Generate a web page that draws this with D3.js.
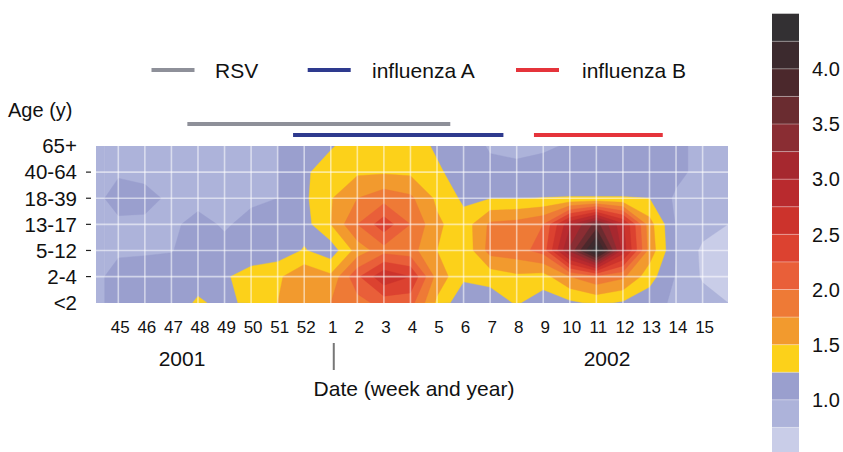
<!DOCTYPE html>
<html>
<head>
<meta charset="utf-8">
<script src="https://cdn.jsdelivr.net/npm/d3@7"></script>
<style>
  body { margin: 0; background: #fff; }
  text { font-family: "Liberation Sans", Arial, Helvetica, sans-serif; fill: #111; }
</style>
</head>
<body>
<svg></svg>
<script>
const width = 843, height = 452;

// categories
const ages = ["<2", "2-4", "5-12", "13-17", "18-39", "40-64", "65+"];
const weeks = ["45", "46", "47", "48", "49", "50", "51", "52", "1", "2", "3", "4",
               "5", "6", "7", "8", "9", "10", "11", "12", "13", "14", "15"];
const years = ["2001", "2002"];

// ratio values per age group, one value per week (45 .. 15)
const age65plus = [0.90, 0.90, 0.90, 0.90, 0.90, 0.90, 1.00, 1.10, 1.22, 1.40, 1.45, 1.40, 1.20, 1.10, 0.98, 0.95, 0.97, 1.02, 1.05, 1.05, 1.05, 1.08, 0.90];
const age40to64 = [0.97, 0.93, 0.92, 0.92, 0.92, 0.93, 1.00, 1.20, 1.40, 1.46, 1.47, 1.45, 1.30, 1.10, 1.05, 1.05, 1.08, 1.10, 1.10, 1.10, 1.08, 1.08, 0.90];
const age18to39 = [1.10, 1.08, 0.95, 0.95, 0.95, 0.97, 1.00, 1.20, 1.48, 1.75, 1.90, 1.80, 1.45, 1.20, 1.24, 1.24, 1.255, 1.26, 1.26, 1.26, 1.25, 0.95, 0.92];
const age13to17 = [0.95, 0.95, 0.97, 1.05, 0.98, 1.05, 1.05, 1.15, 1.50, 2.00, 2.40, 2.00, 1.55, 1.35, 1.80, 1.85, 2.00, 2.95, 3.60, 2.80, 1.60, 0.98, 0.85];
const age5to12  = [0.98, 0.98, 0.99, 1.10, 1.05, 1.10, 1.10, 1.27, 1.10, 1.60, 1.90, 1.85, 1.50, 1.30, 1.85, 1.90, 2.10, 3.30, 4.45, 2.90, 1.65, 1.00, 0.70];
const age2to4   = [1.05, 1.08, 1.10, 1.10, 1.22, 1.35, 1.45, 1.70, 1.55, 2.20, 2.70, 2.50, 1.65, 1.30, 1.35, 1.45, 1.40, 1.75, 1.95, 1.80, 1.35, 0.98, 0.72];
const ageUnder2 = [1.05, 1.05, 1.05, 1.30, 1.15, 1.35, 1.50, 1.65, 1.75, 1.90, 2.10, 2.10, 1.45, 1.05, 1.10, 1.28, 1.10, 1.20, 1.30, 1.22, 1.10, 0.95, 0.85];

// circulation periods, in week positions
const viruses = ["RSV", "influenza A", "influenza B"];
const virusStart = [2.6, 6.58, 15.65];
const virusEnd = [12.5, 14.5, 20.5];
const virusColors = ["#8e9099", "#2e3a8e", "#e5343b"];

// colour bands, 0.25 wide from 0.5 to 4.5
const thresholds = d3.range(0.5, 4.5, 0.25);
const bandColors = ["#c9cde8", "#adb3da", "#9a9fce", "#fcd11a", "#f29a2e", "#ee7a36",
                    "#e95f39", "#dc4230", "#cc332c", "#b92a2e", "#a6282f", "#8a2d33",
                    "#6a2c30", "#4b282c", "#3c2a2e", "#333033"];
const legendTicks = [1.0, 1.5, 2.0, 2.5, 3.0, 3.5, 4.0];

const svg = d3.select("svg").attr("width", width).attr("height", height);

const plot = {left: 96, right: 728, top: 146, bottom: 303};

const x = d3.scaleLinear().domain([0, weeks.length - 1]).range([118.3, 702.6]);
const y = d3.scaleLinear().domain([0, ages.length - 1]).range([302.7, 146]);

// contour grid coordinates (sample k sits at k + 0.5) to pixels
const gx = d3.scaleLinear()
  .domain([0, 0.5, weeks.length - 0.5, weeks.length])
  .range([104.6, x(0), x(weeks.length - 1), plot.right]);
const gy = d3.scaleLinear()
  .domain([0, 0.5, ages.length - 0.5, ages.length])
  .range([plot.bottom, y(0), y(ages.length - 1), plot.top]);

// grid for d3.contours, row 0 = <2
const rows = [ageUnder2, age2to4, age5to12, age13to17, age18to39, age40to64, age65plus];
const values = [].concat(...rows);

const contours = d3.contours()
    .size([weeks.length, ages.length])
    .thresholds(thresholds)(values);

const path = d3.geoPath(d3.geoTransform({
  point: function (px, py) { this.stream.point(gx(px), gy(py)); }
}));

svg.append("clipPath").attr("id", "clip")
  .append("rect")
  .attr("x", plot.left).attr("y", plot.top)
  .attr("width", plot.right - plot.left).attr("height", plot.bottom - plot.top);

const field = svg.append("g").attr("clip-path", "url(#clip)");

field.append("rect")
  .attr("x", plot.left).attr("y", plot.top)
  .attr("width", plot.right - plot.left).attr("height", plot.bottom - plot.top)
  .attr("fill", bandColors[1]);

field.selectAll("path")
  .data(contours)
  .join("path")
  .attr("d", path)
  .attr("fill", (d, i) => bandColors[i])
  .attr("stroke", (d, i) => bandColors[i])
  .attr("stroke-width", 0.4);

// white grid
field.selectAll("line.v")
  .data(weeks)
  .join("line")
  .attr("class", "v")
  .attr("x1", (d, i) => x(i)).attr("x2", (d, i) => x(i))
  .attr("y1", plot.top).attr("y2", plot.bottom)
  .attr("stroke", "#fff").attr("stroke-opacity", 0.55).attr("stroke-width", 1.6);

field.selectAll("line.h")
  .data(ages.slice(1, -1))
  .join("line")
  .attr("class", "h")
  .attr("x1", plot.left).attr("x2", plot.right)
  .attr("y1", (d, i) => y(i + 1)).attr("y2", (d, i) => y(i + 1))
  .attr("stroke", "#fff").attr("stroke-opacity", 0.55).attr("stroke-width", 1.6);

// y axis labels
svg.selectAll("text.age")
  .data(ages)
  .join("text")
  .attr("class", "age")
  .attr("x", 77)
  .attr("y", (d, i) => y(i))
  .attr("dy", "0.36em")
  .attr("text-anchor", "end")
  .attr("font-size", 20.5)
  .text(d => d);

svg.selectAll("line.ytick")
  .data(ages.slice(1, -1))
  .join("line")
  .attr("class", "ytick")
  .attr("x1", 86).attr("x2", 91)
  .attr("y1", (d, i) => y(i + 1)).attr("y2", (d, i) => y(i + 1))
  .attr("stroke", "#222").attr("stroke-width", 1.2);

svg.append("text")
  .attr("x", 8).attr("y", 110).attr("dy", "0.36em")
  .attr("font-size", 20)
  .text("Age (y)");

// x axis labels
svg.selectAll("text.week")
  .data(weeks)
  .join("text")
  .attr("class", "week")
  .attr("x", (d, i) => x(i) + 2)
  .attr("y", 327).attr("dy", "0.36em")
  .attr("text-anchor", "middle")
  .attr("font-size", 17)
  .text(d => d);

svg.selectAll("text.year")
  .data(years)
  .join("text")
  .attr("class", "year")
  .attr("x", (d, i) => x(i === 0 ? 2.4 : 18.4))
  .attr("y", 358).attr("dy", "0.36em")
  .attr("text-anchor", "middle")
  .attr("font-size", 21)
  .text(d => d);

svg.append("line")
  .attr("x1", x(8) + 3).attr("x2", x(8) + 3)
  .attr("y1", 343).attr("y2", 370)
  .attr("stroke", "#777").attr("stroke-width", 2);

svg.append("text")
  .attr("x", 414).attr("y", 388).attr("dy", "0.36em")
  .attr("text-anchor", "middle")
  .attr("font-size", 21)
  .text("Date (week and year)");

// legend
const legendX = [151.5, 307.7, 516];
const legendTextX = [215, 372, 582];
const legend = svg.selectAll("g.legend")
  .data(viruses)
  .join("g")
  .attr("class", "legend");

legend.append("line")
  .attr("x1", (d, i) => legendX[i]).attr("x2", (d, i) => legendX[i] + 43)
  .attr("y1", 70).attr("y2", 70)
  .attr("stroke", (d, i) => virusColors[i])
  .attr("stroke-width", 4);

legend.append("text")
  .attr("x", (d, i) => legendTextX[i])
  .attr("y", 70).attr("dy", "0.36em")
  .attr("font-size", 21)
  .text(d => d);

// circulation bars
const barY = [124, 135, 135];
svg.selectAll("line.period")
  .data(viruses)
  .join("line")
  .attr("class", "period")
  .attr("x1", (d, i) => x(virusStart[i]))
  .attr("x2", (d, i) => x(virusEnd[i]))
  .attr("y1", (d, i) => barY[i]).attr("y2", (d, i) => barY[i])
  .attr("stroke", (d, i) => virusColors[i])
  .attr("stroke-width", 4);

// colour bar
const c = d3.scaleLinear().domain([0.5, 4.5]).range([455, 13.7]);

svg.selectAll("rect.band")
  .data(thresholds)
  .join("rect")
  .attr("class", "band")
  .attr("x", 772).attr("width", 27)
  .attr("y", d => c(d + 0.25))
  .attr("height", d => c(d) - c(d + 0.25))
  .attr("fill", (d, i) => bandColors[i]);

svg.selectAll("line.sep")
  .data(thresholds.slice(1))
  .join("line")
  .attr("class", "sep")
  .attr("x1", 772).attr("x2", 799)
  .attr("y1", d => c(d)).attr("y2", d => c(d))
  .attr("stroke", "#fff").attr("stroke-opacity", 0.35).attr("stroke-width", 1);

svg.selectAll("text.ctick")
  .data(legendTicks)
  .join("text")
  .attr("class", "ctick")
  .attr("x", 812)
  .attr("y", d => c(d)).attr("dy", "0.36em")
  .attr("font-size", 20)
  .text(d => d.toFixed(1));
</script>
</body>
</html>
